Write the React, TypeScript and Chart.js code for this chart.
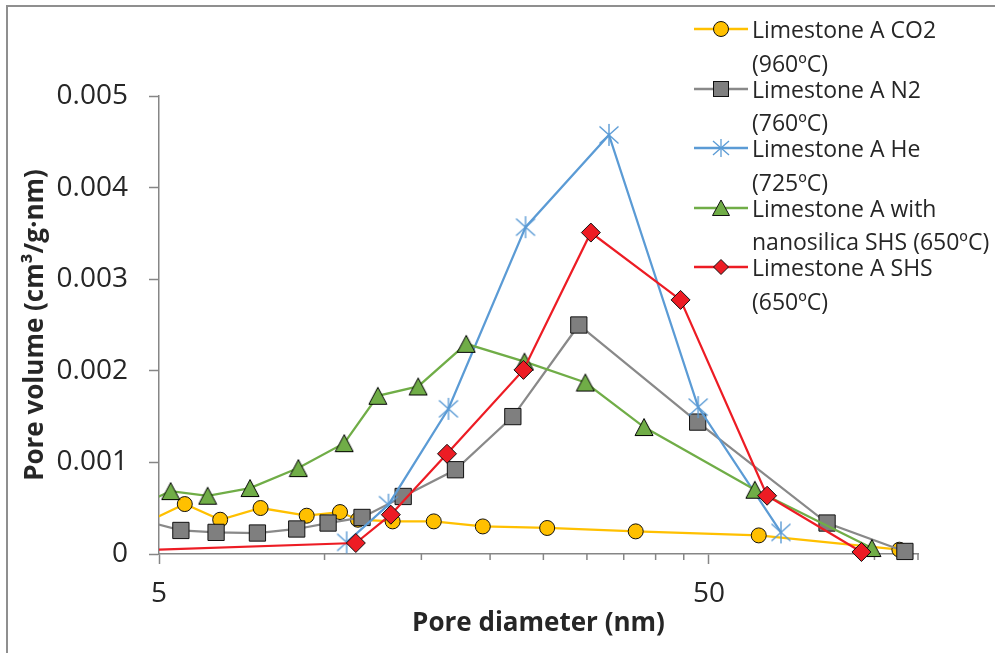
import React, { useEffect, useRef } from 'react';
import { Chart, registerables } from 'chart.js';

Chart.register(...registerables);

// ---- data ----
const co2X = [4.6, 5.57, 6.46, 7.65, 9.28, 10.67, 11.5, 13.3, 15.8, 19.4, 25.4, 36.8, 61.6, 111];
const co2Y = [0.00031, 0.000545, 0.000374, 0.000502, 0.000418, 0.000458, 0.000374, 0.000356, 0.000356, 0.000301, 0.000284, 0.000247, 0.000203, 0.000047];

const n2X = [4.6, 5.48, 6.35, 7.55, 8.9, 10.15, 11.7, 13.9, 17.3, 22.0, 29.0, 47.7, 82.0, 113.6];
const n2Y = [0.000378, 0.000257, 0.000236, 0.000229, 0.000273, 0.000338, 0.000399, 0.000628, 0.00092, 0.0015, 0.0025, 0.00144, 0.000338, 0.000028];

const heX = [10.97, 13.07, 16.8, 23.2, 32.9, 47.8, 67.6];
const heY = [0.000127, 0.000538, 0.001585, 0.003568, 0.004575, 0.001604, 0.000236];

const nsX = [4.6, 5.25, 6.13, 7.32, 8.96, 10.86, 12.5, 14.8, 18.1, 23.1, 29.8, 38.1, 60.6, 98.9];
const nsY = [0.000528, 0.000687, 0.000636, 0.00072, 0.000938, 0.00121, 0.001727, 0.001829, 0.002294, 0.0021, 0.001872, 0.001386, 0.000702, 0.000065];

const shsX = [3.5, 11.4, 13.2, 16.7, 23.0, 30.5, 44.4, 63.8, 94.7];
const shsY = [0.000015, 0.00012, 0.000429, 0.001094, 0.00201, 0.003509, 0.002774, 0.000636, 0.000022];

const seriesNames = [
  'Limestone A CO2 (960ºC)',
  'Limestone A N2 (760ºC)',
  'Limestone A He (725ºC)',
  'Limestone A with nanosilica SHS (650ºC)',
  'Limestone A SHS (650ºC)',
];
const legendLines = [
  ['Limestone A CO2', '(960ºC)'],
  ['Limestone A N2', '(760ºC)'],
  ['Limestone A He', '(725ºC)'],
  ['Limestone A with', 'nanosilica SHS (650ºC)'],
  ['Limestone A SHS', '(650ºC)'],
];

const X_MIN = 5;
const X_MAX = 120;
const xTickValues = [5, 10, 15, 20, 25, 30, 35, 40, 45, 50, 100];
const xLabeledTicks = [5, 50];
const yTicks = [0, 0.001, 0.002, 0.003, 0.004, 0.005];

const xTitle = 'Pore diameter (nm)';
const yTitle = 'Pore volume (cm³/g·nm)';

// ---- styles ----
const FONT = "'Open Sans', 'DejaVu Sans', sans-serif";
const TEXT = '#262626';
const AXIS = '#868686';
const lineColors = ['#FFC000', '#898989', '#5B9BD5', '#70AD47', '#ED1C24'];
const fillColors = ['#FFC000', '#7F7F7F', '#5B9BD5', '#70AD47', '#ED1C24'];

function makeTriangle(): HTMLCanvasElement {
  const c = document.createElement('canvas');
  c.width = 20; c.height = 20;
  const g = c.getContext('2d')!;
  g.beginPath();
  g.moveTo(10, 1.5);
  g.lineTo(19, 18.5);
  g.lineTo(1, 18.5);
  g.closePath();
  g.fillStyle = fillColors[3];
  g.fill();
  g.lineWidth = 1;
  g.strokeStyle = '#000';
  g.stroke();
  return c;
}

function makeStar(): HTMLCanvasElement {
  const c = document.createElement('canvas');
  c.width = 22; c.height = 24;
  const g = c.getContext('2d')!;
  g.strokeStyle = lineColors[2];
  g.lineWidth = 1.4;
  g.beginPath();
  g.moveTo(11, 1); g.lineTo(11, 23);
  g.moveTo(1.5, 3.5); g.lineTo(20.5, 20.5);
  g.moveTo(20.5, 3.5); g.lineTo(1.5, 20.5);
  g.stroke();
  return c;
}

const minorTicks = {
  id: 'minorTicks',
  beforeDatasetsDraw(chart: any) {
    const s = chart.scales.x;
    const ctx = chart.ctx;
    ctx.save();
    ctx.strokeStyle = AXIS;
    ctx.lineWidth = 1.5;
    const vals = [...xTickValues.filter((v) => !xLabeledTicks.includes(v)), X_MAX];
    vals.forEach((v) => {
      const px = s.getPixelForValue(v);
      ctx.beginPath();
      ctx.moveTo(px, s.top);
      ctx.lineTo(px, s.top + 6);
      ctx.stroke();
    });
    ctx.restore();
  },
};

function LegendMarker({ i }: { i: number }) {
  const stroke = '#111';
  let m: React.ReactNode = null;
  if (i === 0) m = <circle cx={27} cy={10} r={7.5} fill={fillColors[0]} stroke={stroke} strokeWidth={1} />;
  if (i === 1) m = <rect x={19.5} y={2.5} width={15} height={15} fill={fillColors[1]} stroke={stroke} strokeWidth={1} />;
  if (i === 2)
    m = (
      <g stroke={lineColors[2]} strokeWidth={1.3}>
        <line x1={27} y1={1} x2={27} y2={19} />
        <line x1={19} y1={3} x2={35} y2={17} />
        <line x1={35} y1={3} x2={19} y2={17} />
      </g>
    );
  if (i === 3) m = <polygon points="27,2 35.5,17.5 18.5,17.5" fill={fillColors[3]} stroke={stroke} strokeWidth={1} />;
  if (i === 4) m = <polygon points="27,2.5 34.5,10 27,17.5 19.5,10" fill={fillColors[4]} stroke={stroke} strokeWidth={1} />;
  return (
    <svg width={54} height={20} style={{ display: 'block' }}>
      <line x1={0} y1={10} x2={54} y2={10} stroke={lineColors[i]} strokeWidth={2.5} />
      {m}
    </svg>
  );
}

export default function App() {
  const ref = useRef<HTMLCanvasElement>(null);

  useEffect(() => {
    if (!ref.current) return;
    const tri = makeTriangle();
    const star = makeStar();
    const xs = [co2X, n2X, heX, nsX, shsX];
    const ys = [co2Y, n2Y, heY, nsY, shsY];
    const styles: any[] = ['circle', 'rect', star, tri, 'rectRot'];
    const radii = [7.5, 11.5, 11, 10, 9.5];
    const datasets = xs.map((xArr, i) => ({
      label: seriesNames[i],
      data: xArr.map((x, j) => ({ x, y: ys[i][j] })),
      borderColor: lineColors[i],
      backgroundColor: fillColors[i],
      borderWidth: 2.25,
      pointStyle: styles[i],
      pointRadius: radii[i],
      pointBorderColor: '#111',
      pointBorderWidth: 1,
      pointBackgroundColor: fillColors[i],
      tension: 0,
      fill: false,
      order: 4 - i,
      clip: { left: 0, top: 30, right: 30, bottom: 30 },
    }));

    const chart = new Chart(ref.current, {
      type: 'line',
      data: { datasets },
      options: {
        animation: false,
        responsive: false,
        devicePixelRatio: 1,
        layout: { padding: { top: 96, right: 77, left: 0, bottom: 0 } },
        plugins: { legend: { display: false }, tooltip: { enabled: false } },
        scales: {
          x: {
            type: 'logarithmic',
            min: X_MIN,
            max: X_MAX,
            afterFit: (s: any) => { s.height = 99; },
            afterBuildTicks: (s: any) => { s.ticks = xTickValues.map((v) => ({ value: v })); },
            ticks: {
              autoSkip: false,
              maxRotation: 0,
              minRotation: 0,
              padding: 13,
              color: TEXT,
              font: { family: FONT, size: 28 },
              callback: (v: any) => (xLabeledTicks.includes(Number(v)) ? String(v) : ''),
            },
            grid: {
              drawOnChartArea: false,
              drawTicks: true,
              tickLength: 10,
              tickWidth: 1.5,
              tickColor: (c: any) => (c.tick && xLabeledTicks.includes(c.tick.value) ? AXIS : 'rgba(0,0,0,0)'),
            },
            border: { color: AXIS, width: 1.5 },
            title: {
              display: true,
              text: xTitle,
              color: TEXT,
              font: { family: FONT, size: 26, weight: 'bold' },
              padding: { top: 0, bottom: 14 },
            },
          },
          y: {
            type: 'linear',
            min: 0,
            max: 0.005,
            afterFit: (s: any) => { s.width = 159; },
            afterBuildTicks: (s: any) => { s.ticks = yTicks.map((v) => ({ value: v })); },
            ticks: {
              padding: 21,
              color: TEXT,
              font: { family: FONT, size: 28 },
              callback: (v: any) => (Number(v) === 0 ? '0' : Number(v).toFixed(3)),
            },
            grid: { drawOnChartArea: false, drawTicks: true, tickLength: 10, tickWidth: 1.5, tickColor: AXIS },
            border: { color: AXIS, width: 1.5 },
            title: {
              display: true,
              text: yTitle,
              color: TEXT,
              font: { family: FONT, size: 26, weight: 'bold' },
              padding: { top: 20, bottom: 0 },
            },
          },
        },
      } as any,
      plugins: [minorTicks],
    });
    return () => chart.destroy();
  }, []);

  return (
    <div style={{ position: 'fixed', left: 0, top: 0, width: 995, height: 653, overflow: 'hidden', background: '#fff' }}>
      <div style={{ position: 'absolute', left: 6, top: 5, width: 1100, height: 800, border: '2px solid #8f8f8f' }} />
      <canvas ref={ref} width={995} height={653} style={{ position: 'absolute', left: 0, top: 0, width: 995, height: 653 }} />
      {legendLines.map((lines, i) => {
        const cy = 29 + 59.5 * i;
        return (
          <React.Fragment key={i}>
            <div style={{ position: 'absolute', left: 694, top: cy - 10 }}>
              <LegendMarker i={i} />
            </div>
            {lines.map((t, k) => (
              <div
                key={k}
                style={{
                  position: 'absolute',
                  left: 752,
                  top: cy + k * 33.5 - 16,
                  fontFamily: FONT,
                  fontSize: 23,
                  lineHeight: '32px',
                  color: TEXT,
                  whiteSpace: 'nowrap',
                }}
              >
                {t}
              </div>
            ))}
          </React.Fragment>
        );
      })}
    </div>
  );
}
